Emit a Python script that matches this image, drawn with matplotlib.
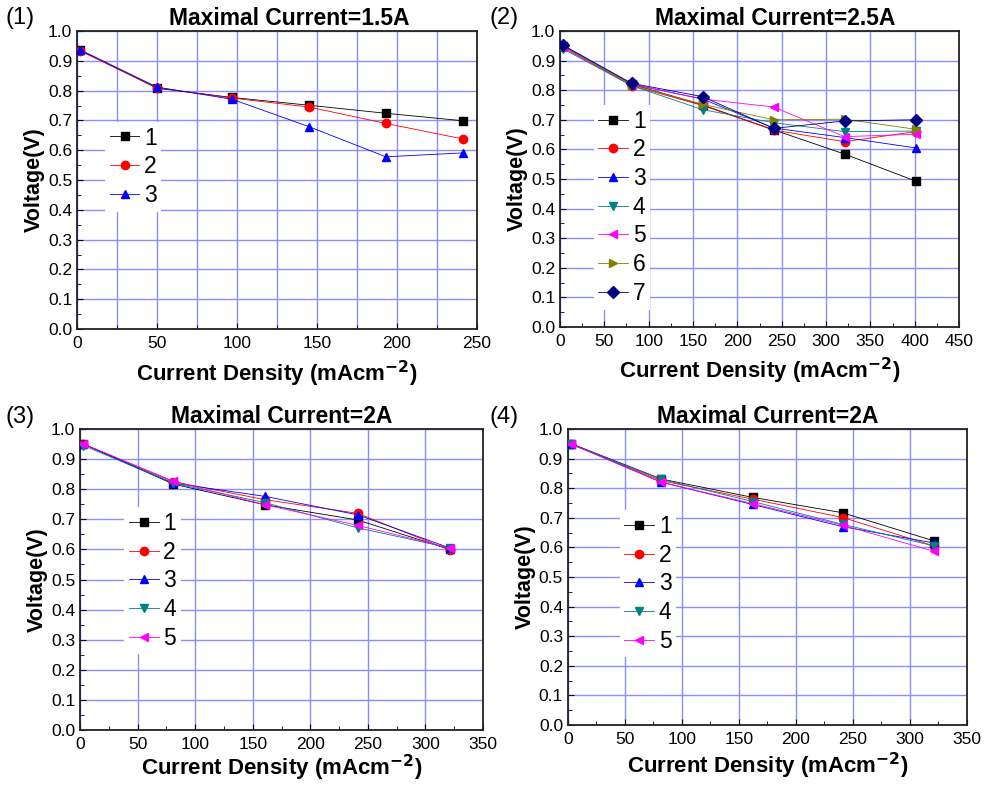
import matplotlib
matplotlib.use("Agg")
import matplotlib.pyplot as plt
from matplotlib.ticker import MultipleLocator

plt.rcParams['font.family'] = ['Liberation Sans', 'DejaVu Sans']

# panel 1: maximal current 1.5A
x1 = [2, 50, 97, 145, 193, 241]
p1_s1 = [0.935, 0.808, 0.777, 0.751, 0.724, 0.699]
p1_s2 = [0.933, 0.810, 0.775, 0.745, 0.690, 0.638]
p1_s3 = [0.937, 0.812, 0.771, 0.679, 0.578, 0.591]

# panel 2: maximal current 2.5A
x2 = [3, 81, 161, 241, 321, 401]
p2_s1 = [0.950, 0.820, 0.750, 0.666, 0.584, 0.493]
p2_s2 = [0.945, 0.815, 0.748, 0.665, 0.626, 0.660]
p2_s3 = [0.950, 0.820, 0.770, 0.672, 0.640, 0.605]
p2_s4 = [0.940, 0.815, 0.734, 0.690, 0.660, 0.662]
p2_s5 = [0.945, 0.820, 0.770, 0.743, 0.643, 0.651]
p2_s6 = [0.950, 0.818, 0.752, 0.700, 0.702, 0.668]
p2_s7 = [0.953, 0.823, 0.778, 0.671, 0.696, 0.700]

# panel 3: maximal current 2A
x3 = [3, 81, 161, 241, 321]
p3_s1 = [0.950, 0.817, 0.748, 0.698, 0.600]
p3_s2 = [0.950, 0.825, 0.765, 0.720, 0.598]
p3_s3 = [0.950, 0.820, 0.776, 0.715, 0.605]
p3_s4 = [0.945, 0.820, 0.755, 0.672, 0.605]
p3_s5 = [0.950, 0.827, 0.748, 0.680, 0.605]

# panel 4: maximal current 2A
x4 = [3, 82, 162, 241, 321]
p4_s1 = [0.950, 0.831, 0.769, 0.717, 0.622]
p4_s2 = [0.950, 0.825, 0.763, 0.701, 0.605]
p4_s3 = [0.950, 0.820, 0.745, 0.670, 0.615]
p4_s4 = [0.948, 0.830, 0.755, 0.678, 0.605]
p4_s5 = [0.948, 0.820, 0.748, 0.675, 0.587]

titles = ['Maximal Current=1.5A', 'Maximal Current=2.5A',
          'Maximal Current=2A', 'Maximal Current=2A']
panel_tags = ['(1)', '(2)', '(3)', '(4)']

colors = ['black', 'red', 'blue', '#008080', 'magenta', '#808000', '#000080']
markers = ['s', 'o', '^', 'v', '<', '>', 'D']

panels = [
    (x1, [p1_s1, p1_s2, p1_s3], 250, 25),
    (x2, [p2_s1, p2_s2, p2_s3, p2_s4, p2_s5, p2_s6, p2_s7], 450, 50),
    (x3, [p3_s1, p3_s2, p3_s3, p3_s4, p3_s5], 350, 50),
    (x4, [p4_s1, p4_s2, p4_s3, p4_s4, p4_s5], 350, 50),
]

# axes rects in figure fraction, legend anchors, tag positions
rects = [[0.0783, 0.5814, 0.4065, 0.3791],
         [0.5691, 0.5840, 0.4055, 0.3766],
         [0.0813, 0.0712, 0.4096, 0.3830],
         [0.5772, 0.0776, 0.4055, 0.3766]]
leg_pos = [(0.07, 0.695), (0.085, 0.75), (0.11, 0.74), (0.13, 0.725)]
title_x = [0.53, 0.54, 0.5, 0.5]
xlab_pad = [6, 5, 0.5, 3]
tag_pos = [(0.006, 0.977), (0.497, 0.977), (0.006, 0.470), (0.497, 0.470)]

fig = plt.figure(figsize=(9.84, 7.86), dpi=100)

for i, (x, series, xmax, gridstep) in enumerate(panels):
    ax = fig.add_axes(rects[i])
    for j, y in enumerate(series):
        ax.plot(x, y, color=colors[j], marker=markers[j], markersize=6,
                linewidth=0.6, label=str(j + 1), zorder=3)
    ax.set_xlim(0, xmax)
    ax.set_ylim(0, 1.0)
    ax.xaxis.set_major_locator(MultipleLocator(50))
    ax.xaxis.set_minor_locator(MultipleLocator(25))
    ax.yaxis.set_minor_locator(MultipleLocator(0.05))
    ax.set_yticks([k / 10 for k in range(11)])
    ax.set_yticklabels(['%.1f' % (k / 10) for k in range(11)])
    ax.tick_params(which='both', direction='in', labelsize=12.5)
    ax.tick_params(which='major', length=4)
    ax.tick_params(which='minor', length=3)
    ax.tick_params(axis='x', pad=5)
    # grid
    ax.grid(True, which='major', axis='y', color='#8c8cff', linewidth=1.0)
    if gridstep == 25:
        ax.grid(True, which='both', axis='x', color='#8c8cff', linewidth=1.0)
    else:
        ax.grid(True, which='major', axis='x', color='#8c8cff', linewidth=1.0)
    ax.set_axisbelow(True)
    for sp in ax.spines.values():
        sp.set_linewidth(1.3)
        sp.set_color('#222222')
    ax.set_xlabel(r'Current Density (mAcm$^{\mathbf{-2}}$)', fontsize=16,
                  fontweight='bold', labelpad=xlab_pad[i])
    ax.set_ylabel('Voltage(V)', fontsize=15.5, fontweight='bold', labelpad=2)
    ax.set_title(titles[i], fontsize=16.5, fontweight='bold', pad=4,
                 x=title_x[i])
    ax.legend(loc='upper left', bbox_to_anchor=leg_pos[i], fontsize=16.5,
              frameon=True, framealpha=1, edgecolor='none',
              handlelength=1.3, handletextpad=0.2, labelspacing=0.25,
              borderpad=0.2, borderaxespad=0, fancybox=False)
    fig.text(tag_pos[i][0], tag_pos[i][1], panel_tags[i], fontsize=17,
             va='center', ha='left')

fig.savefig('out.png', dpi=100)
